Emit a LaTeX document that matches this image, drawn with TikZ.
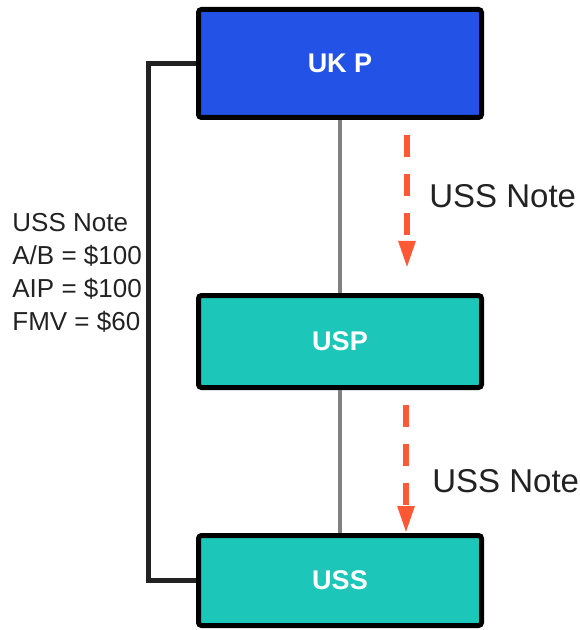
\documentclass[tikz,border=0pt]{standalone}
\usepackage{fontspec}
\setmainfont{Liberation Sans}
\usepackage{tikz}
\usetikzlibrary{arrows.meta}
\definecolor{ukblue}{RGB}{35,83,230}
\definecolor{usteal}{RGB}{28,199,186}
\definecolor{noteorange}{RGB}{255,88,52}
\definecolor{inkgray}{RGB}{34,34,34}
\tikzset{entity/.style={draw=black, line width=2.5pt, rounded corners=1.5pt, minimum width=141.5pt, text=white, font=\fontsize{13.5}{16}\selectfont\bfseries},
  link/.style={draw=black!50, line width=2pt},
  holding/.style={draw=inkgray, line width=2.5pt},
  noteflow/.style={draw=noteorange, line width=2.75pt, dash pattern=on 11pt off 8.5pt, -{Triangle[length=13.5pt,width=8pt]}},
  notelabel/.style={text=inkgray, inner sep=0pt, font=\fontsize{16.5}{19}\selectfont}}

\begin{document}
\begin{tikzpicture}[x=0.5pt,y=-0.5pt]
      \useasboundingbox (0,0) rectangle (579,630);

      \node[entity,fill=ukblue,minimum height=54pt] (ukp) at (340,63.5) {UK P};
      \node[entity,fill=usteal,minimum height=46pt] (usp) at (340,341.5) {USP};
      \node[entity,fill=usteal,minimum height=45pt] (uss) at (340,580.5) {USS};

      % ownership chain
      \draw[link] (ukp.south) -- (usp.north);
      \draw[link] (usp.south) -- (uss.north);

      % note held directly by UK P
      \draw[holding] (ukp.west) -- ++(-48,0) |- (uss.west);
      \node[notelabel,anchor=north west,align=left,font=\fontsize{13}{16.5}\selectfont] (terms) at (12,213)
        {USS Note\\A/B = \$100\\AIP = \$100\\FMV = \$60};

      % the note moves down the chain
      \coordinate (n1s) at (407,135);
      \coordinate (n1e) at (407,268);
      \draw[noteflow] (n1s) -- (n1e);
      \node[notelabel,anchor=base west] (note1) at (429,208) {USS Note};

      \coordinate (n2s) at (406,405);
      \draw[noteflow] (n2s) -- (n2s |- uss.north);
      \node[notelabel,anchor=base west] (note2) at (432,492) {USS Note};
\end{tikzpicture}
\end{document}
